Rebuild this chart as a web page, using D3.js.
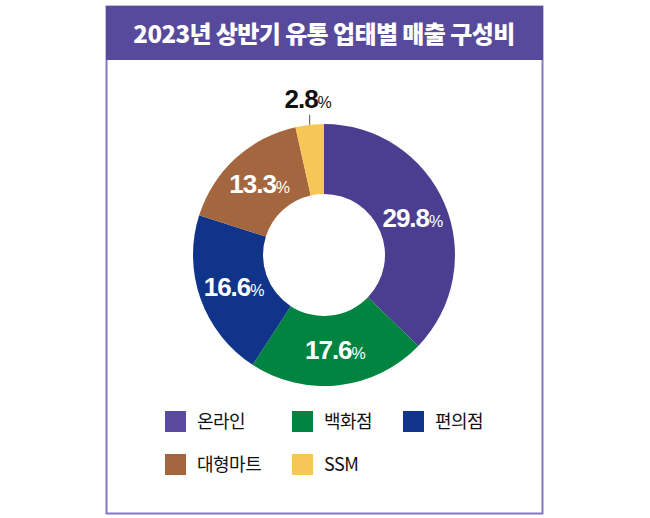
<!DOCTYPE html>
<html>
<head>
<meta charset="utf-8">
<script src="https://cdn.jsdelivr.net/npm/d3@7"></script>
<style>
  body { margin: 0; background: #fff; }
  text { font-family: "Liberation Sans", "Noto Sans CJK KR", sans-serif; }
  .kr { font-family: "Noto Sans CJK KR", sans-serif; }
</style>
</head>
<body>
<div id="chart"></div>
<script>
// data
var categories = ["온라인", "백화점", "편의점", "대형마트", "SSM"];
var shares = [29.8, 17.6, 16.6, 13.3, 2.8];
var colors = ["#4b3d8f", "#00843f", "#10348a", "#a4663e", "#f6c656"];
var title = "2023년 상반기 유통 업태별 매출 구성비";

var width = 650, height = 518;

var svg = d3.select("#chart")
  .append("svg")
    .attr("width", width)
    .attr("height", height);

// frame + title bar
svg.append("rect")
  .attr("x", 106.5).attr("y", 6.5)
  .attr("width", 436).attr("height", 507)
  .attr("fill", "#fff")
  .attr("stroke", "#8378c4")
  .attr("stroke-width", 2);

svg.append("rect")
  .attr("x", 106).attr("y", 6)
  .attr("width", 437).attr("height", 54)
  .attr("fill", "#574a9c");

svg.append("text")
  .attr("class", "kr")
  .attr("x", 324).attr("y", 43)
  .attr("text-anchor", "middle")
  .attr("fill", "#fff")
  .attr("font-size", 24)
  .attr("font-weight", 900)
  .attr("letter-spacing", -0.6)
  .text(title);

// donut
var cx = 324, cy = 255, rOut = 131, rIn = 61;

var pie = d3.pie().sort(null).value(function(d) { return d; });
var arcs = pie(shares);

var arc = d3.arc().innerRadius(rIn).outerRadius(rOut);
var labelArc = d3.arc().innerRadius(96).outerRadius(96);

var g = svg.append("g")
  .attr("transform", "translate(" + cx + "," + cy + ")");

g.selectAll("path")
  .data(arcs)
  .enter()
  .append("path")
    .attr("d", arc)
    .attr("fill", function(d, i) { return colors[i]; });

// labels inside the ring (all but the small slice)
var inside = g.selectAll(".lbl")
  .data(arcs.filter(function(d) { return d.index < 4; }))
  .enter()
  .append("text")
    .attr("class", "lbl")
    .attr("transform", function(d) { return "translate(" + labelArc.centroid(d) + ")"; })
    .attr("text-anchor", "middle")
    .attr("dy", "0.35em")
    .attr("fill", "#fff")
    .attr("font-size", 26)
    .attr("font-weight", "bold")
    .attr("letter-spacing", -1);
inside.append("tspan").text(function(d) { return d.data.toFixed(1); });
inside.append("tspan").attr("font-size", 16).attr("font-weight", "normal").text("%");

// small slice: label outside with a leader line
var small = arcs[4];
var mid = (small.startAngle + small.endAngle) / 2;
var px = Math.sin(mid) * rOut, py = -Math.cos(mid) * rOut;

g.append("line")
  .attr("x1", px).attr("y1", py)
  .attr("x2", px).attr("y2", py - 10)
  .attr("stroke", "#555")
  .attr("stroke-width", 1);

var out = g.append("text")
  .attr("x", px - 2).attr("y", py - 17)
  .attr("text-anchor", "middle")
  .attr("fill", "#111")
  .attr("font-size", 26)
  .attr("font-weight", "bold")
  .attr("letter-spacing", -1);
out.append("tspan").text(small.data.toFixed(1));
out.append("tspan").attr("font-size", 16).attr("font-weight", "normal").text("%");

// legend
var legendPos = [[165, 411], [292, 411], [403, 411], [165, 454], [292, 454]];

var leg = svg.selectAll(".leg")
  .data(categories)
  .enter()
  .append("g")
    .attr("class", "leg")
    .attr("transform", function(d, i) { return "translate(" + legendPos[i] + ")"; });

leg.append("rect")
  .attr("width", 21).attr("height", 21)
  .attr("fill", function(d, i) { return i === 0 ? "#5a4b9e" : colors[i]; });

leg.append("text")
  .attr("class", "kr")
  .attr("x", 32).attr("y", 11)
  .attr("dy", "0.36em")
  .attr("fill", "#111")
  .attr("font-size", 18)
  .attr("letter-spacing", -0.5)
  .text(function(d) { return d; });
</script>
</body>
</html>
